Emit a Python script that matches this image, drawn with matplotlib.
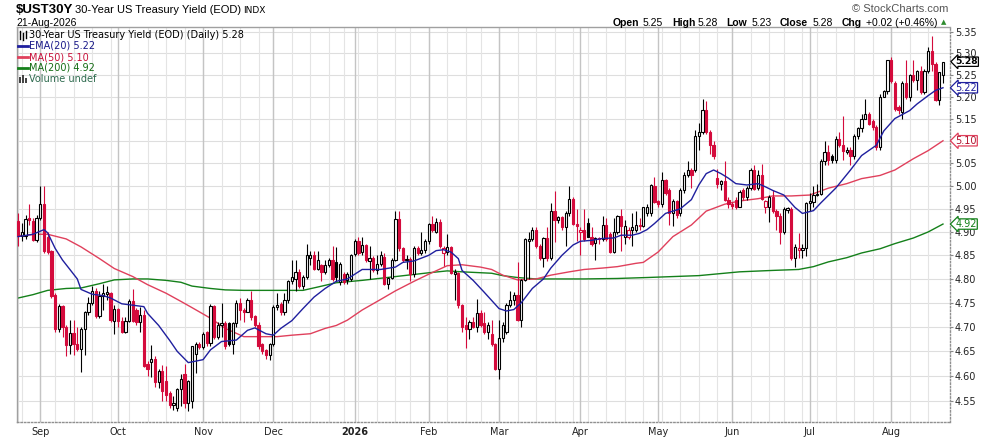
import numpy as np
import pandas as pd
import matplotlib
matplotlib.use("Agg")
import matplotlib.pyplot as plt
from matplotlib.lines import Line2D
from matplotlib.patches import Rectangle
from matplotlib.ticker import FixedLocator, NullLocator, FuncFormatter

# trading calendar (bond market days shown on the chart)
first_day, last_day = "2025-08-22", "2026-08-21"
holidays = ["2025-09-01", "2025-11-27", "2025-12-25", "2026-01-01", "2026-01-19",
            "2026-02-16", "2026-04-03", "2026-05-25", "2026-06-19", "2026-07-03"]

# daily candles (10 per row)
opens = [
    4.924, 4.892, 4.892, 4.930, 4.924, 4.882, 4.930, 4.960, 4.890, 4.860,
    4.767, 4.695, 4.743, 4.700, 4.662, 4.687, 4.665, 4.655, 4.695, 4.730,
    4.750, 4.775, 4.722, 4.764, 4.768, 4.770, 4.712, 4.738, 4.712, 4.690,
    4.713, 4.753, 4.735, 4.710, 4.724, 4.625, 4.628, 4.635, 4.587, 4.610,
    4.590, 4.565, 4.542, 4.535, 4.573, 4.603, 4.546, 4.550, 4.645, 4.665,
    4.658, 4.690, 4.668, 4.743, 4.680, 4.705, 4.708, 4.708, 4.665, 4.708,
    4.750, 4.735, 4.730, 4.755, 4.722, 4.705, 4.665, 4.652, 4.643, 4.665,
    4.742, 4.748, 4.730, 4.755, 4.795, 4.800, 4.815, 4.785, 4.805, 4.845,
    4.850, 4.820, 4.830, 4.815, 4.830, 4.840, 4.835, 4.793, 4.810, 4.797,
    4.800, 4.853, 4.880, 4.857, 4.873, 4.838, 4.845, 4.818, 4.832, 4.847,
    4.790, 4.803, 4.840, 4.928, 4.865, 4.840, 4.843, 4.810, 4.866, 4.855,
    4.862, 4.880, 4.918, 4.900, 4.922, 4.855, 4.858, 4.867, 4.810, 4.812,
    4.745, 4.705, 4.695, 4.710, 4.700, 4.728, 4.708, 4.690, 4.685, 4.665,
    4.615, 4.678, 4.690, 4.745, 4.755, 4.767, 4.715, 4.798, 4.880, 4.885,
    4.905, 4.870, 4.845, 4.887, 4.845, 4.945, 4.925, 4.932, 4.910, 4.940,
    4.972, 4.918, 4.900, 4.905, 4.920, 4.890, 4.877, 4.888, 4.885, 4.915,
    4.895, 4.858, 4.900, 4.935, 4.890, 4.890, 4.905, 4.905, 4.915, 4.912,
    4.940, 4.940, 5.000, 4.968, 4.960, 5.012, 4.990, 4.940, 4.968, 4.940,
    4.990, 5.025, 5.035, 5.035, 5.110, 5.120, 5.170, 5.120, 5.090, 5.017,
    5.005, 5.010, 4.970, 4.960, 4.970, 4.955, 4.990, 4.975, 4.995, 5.035,
    4.995, 5.025, 4.955, 4.955, 4.975, 4.945, 4.935, 4.900, 4.948, 4.950,
    4.845, 4.862, 4.862, 4.865, 4.963, 4.965, 4.980, 4.983, 5.055, 5.075,
    5.065, 5.058, 5.105, 5.090, 5.075, 5.080, 5.066, 5.110, 5.128, 5.150,
    5.160, 5.145, 5.130, 5.085, 5.200, 5.213, 5.283, 5.230, 5.175, 5.165,
    5.230, 5.200, 5.250, 5.238, 5.258, 5.210, 5.258, 5.305, 5.275, 5.193,
    5.250,
]
highs = [
    4.940, 4.920, 4.937, 4.960, 4.930, 4.937, 5.000, 5.000, 4.900, 4.862,
    4.770, 4.747, 4.745, 4.705, 4.715, 4.715, 4.700, 4.700, 4.733, 4.762,
    4.785, 4.780, 4.775, 4.790, 4.785, 4.772, 4.745, 4.740, 4.720, 4.720,
    4.757, 4.778, 4.740, 4.742, 4.735, 4.630, 4.663, 4.640, 4.615, 4.622,
    4.620, 4.570, 4.560, 4.575, 4.603, 4.625, 4.592, 4.660, 4.670, 4.670,
    4.690, 4.692, 4.747, 4.745, 4.710, 4.750, 4.712, 4.710, 4.710, 4.755,
    4.760, 4.740, 4.760, 4.775, 4.725, 4.710, 4.668, 4.655, 4.668, 4.745,
    4.770, 4.752, 4.770, 4.798, 4.840, 4.840, 4.820, 4.808, 4.875, 4.860,
    4.860, 4.860, 4.832, 4.840, 4.845, 4.870, 4.868, 4.835, 4.815, 4.815,
    4.853, 4.885, 4.890, 4.890, 4.875, 4.870, 4.848, 4.850, 4.860, 4.855,
    4.805, 4.845, 4.945, 4.945, 4.868, 4.850, 4.846, 4.870, 4.870, 4.900,
    4.885, 4.920, 4.935, 4.930, 4.928, 4.870, 4.895, 4.870, 4.820, 4.815,
    4.748, 4.720, 4.715, 4.720, 4.757, 4.735, 4.730, 4.710, 4.715, 4.668,
    4.715, 4.710, 4.750, 4.775, 4.772, 4.835, 4.800, 4.887, 4.900, 4.910,
    4.910, 4.875, 4.890, 4.910, 4.962, 4.988, 4.935, 4.935, 4.945, 5.000,
    4.975, 4.950, 4.910, 4.950, 4.930, 4.910, 4.890, 4.890, 4.935, 4.930,
    4.900, 4.930, 4.937, 4.950, 4.925, 4.910, 4.940, 4.945, 4.930, 4.955,
    4.960, 5.005, 5.020, 4.970, 5.030, 5.015, 4.995, 4.972, 4.970, 4.995,
    5.030, 5.055, 5.040, 5.125, 5.140, 5.195, 5.190, 5.125, 5.100, 5.038,
    5.012, 5.055, 4.975, 4.965, 4.975, 4.990, 4.995, 5.000, 5.040, 5.045,
    5.035, 5.048, 4.970, 4.980, 4.990, 4.950, 4.940, 4.955, 4.955, 4.955,
    4.875, 4.897, 4.875, 4.965, 4.985, 5.000, 5.005, 5.060, 5.100, 5.090,
    5.070, 5.110, 5.120, 5.155, 5.085, 5.085, 5.115, 5.130, 5.160, 5.195,
    5.165, 5.150, 5.135, 5.205, 5.215, 5.285, 5.290, 5.235, 5.180, 5.235,
    5.285, 5.252, 5.285, 5.260, 5.270, 5.262, 5.315, 5.340, 5.280, 5.250,
    5.280,
]
lows = [
    4.870, 4.880, 4.885, 4.915, 4.880, 4.878, 4.925, 4.855, 4.853, 4.760,
    4.690, 4.690, 4.680, 4.640, 4.645, 4.643, 4.650, 4.607, 4.643, 4.725,
    4.745, 4.718, 4.718, 4.735, 4.755, 4.710, 4.685, 4.700, 4.688, 4.688,
    4.710, 4.710, 4.705, 4.690, 4.618, 4.600, 4.598, 4.578, 4.575, 4.550,
    4.550, 4.535, 4.532, 4.530, 4.540, 4.535, 4.530, 4.535, 4.605, 4.655,
    4.655, 4.660, 4.660, 4.675, 4.675, 4.680, 4.655, 4.660, 4.645, 4.700,
    4.715, 4.710, 4.730, 4.715, 4.700, 4.655, 4.645, 4.635, 4.632, 4.660,
    4.735, 4.725, 4.725, 4.750, 4.790, 4.775, 4.780, 4.778, 4.800, 4.830,
    4.818, 4.818, 4.795, 4.810, 4.825, 4.795, 4.795, 4.787, 4.790, 4.790,
    4.795, 4.848, 4.850, 4.850, 4.835, 4.800, 4.815, 4.810, 4.828, 4.788,
    4.778, 4.800, 4.838, 4.860, 4.835, 4.820, 4.795, 4.805, 4.850, 4.850,
    4.855, 4.875, 4.900, 4.898, 4.865, 4.828, 4.850, 4.810, 4.755, 4.740,
    4.690, 4.657, 4.675, 4.698, 4.690, 4.700, 4.685, 4.675, 4.660, 4.612,
    4.593, 4.670, 4.685, 4.742, 4.745, 4.713, 4.700, 4.796, 4.800, 4.880,
    4.865, 4.840, 4.825, 4.838, 4.840, 4.878, 4.920, 4.905, 4.870, 4.935,
    4.915, 4.880, 4.850, 4.880, 4.890, 4.870, 4.840, 4.875, 4.880, 4.880,
    4.855, 4.855, 4.895, 4.860, 4.875, 4.885, 4.870, 4.900, 4.905, 4.910,
    4.935, 4.935, 4.962, 4.955, 4.955, 4.980, 4.915, 4.912, 4.930, 4.935,
    4.985, 5.020, 4.995, 5.030, 5.080, 5.115, 5.115, 5.070, 5.060, 4.995,
    4.990, 4.967, 4.952, 4.950, 4.950, 4.953, 4.970, 4.970, 4.990, 4.990,
    4.990, 4.970, 4.940, 4.922, 4.940, 4.905, 4.875, 4.895, 4.940, 4.840,
    4.825, 4.845, 4.845, 4.848, 4.945, 4.955, 4.977, 4.980, 5.045, 5.045,
    5.050, 5.050, 5.085, 5.057, 5.070, 5.045, 5.060, 5.105, 5.120, 5.148,
    5.135, 5.125, 5.080, 5.080, 5.198, 5.205, 5.230, 5.168, 5.160, 5.150,
    5.195, 5.190, 5.233, 5.215, 5.205, 5.205, 5.255, 5.258, 5.190, 5.180,
    5.230,
]
closes = [
    4.892, 4.900, 4.927, 4.925, 4.882, 4.930, 4.960, 4.860, 4.857, 4.765,
    4.695, 4.743, 4.700, 4.662, 4.687, 4.665, 4.655, 4.695, 4.730, 4.750,
    4.775, 4.722, 4.764, 4.770, 4.772, 4.715, 4.738, 4.712, 4.690, 4.713,
    4.753, 4.713, 4.710, 4.724, 4.620, 4.615, 4.635, 4.587, 4.610, 4.570,
    4.562, 4.542, 4.545, 4.573, 4.593, 4.546, 4.590, 4.660, 4.665, 4.658,
    4.685, 4.668, 4.743, 4.680, 4.705, 4.708, 4.660, 4.665, 4.708, 4.750,
    4.735, 4.730, 4.755, 4.720, 4.705, 4.660, 4.650, 4.643, 4.665, 4.742,
    4.745, 4.730, 4.755, 4.795, 4.805, 4.815, 4.785, 4.805, 4.850, 4.850,
    4.820, 4.840, 4.815, 4.830, 4.840, 4.800, 4.805, 4.832, 4.793, 4.810,
    4.850, 4.880, 4.855, 4.873, 4.840, 4.845, 4.818, 4.832, 4.850, 4.790,
    4.803, 4.840, 4.928, 4.865, 4.840, 4.843, 4.810, 4.866, 4.855, 4.862,
    4.880, 4.918, 4.905, 4.922, 4.870, 4.866, 4.867, 4.812, 4.815, 4.745,
    4.700, 4.695, 4.710, 4.700, 4.728, 4.705, 4.690, 4.705, 4.665, 4.615,
    4.678, 4.705, 4.745, 4.755, 4.767, 4.715, 4.798, 4.885, 4.885, 4.905,
    4.870, 4.845, 4.887, 4.845, 4.945, 4.925, 4.932, 4.910, 4.940, 4.972,
    4.918, 4.913, 4.905, 4.885, 4.890, 4.875, 4.888, 4.885, 4.915, 4.884,
    4.858, 4.900, 4.935, 4.912, 4.912, 4.905, 4.910, 4.915, 4.912, 4.953,
    4.955, 5.002, 4.965, 4.960, 5.012, 4.985, 4.940, 4.968, 4.937, 4.990,
    5.025, 5.035, 5.025, 5.110, 5.120, 5.170, 5.120, 5.090, 5.065, 5.005,
    5.010, 4.970, 4.960, 4.957, 4.955, 4.987, 4.975, 4.995, 5.035, 4.993,
    5.025, 4.972, 4.968, 4.975, 4.945, 4.935, 4.900, 4.950, 4.952, 4.845,
    4.868, 4.865, 4.866, 4.963, 4.967, 4.980, 4.982, 5.055, 5.075, 5.058,
    5.058, 5.105, 5.090, 5.078, 5.080, 5.066, 5.110, 5.128, 5.150, 5.160,
    5.138, 5.130, 5.085, 5.200, 5.213, 5.283, 5.235, 5.172, 5.170, 5.230,
    5.200, 5.250, 5.238, 5.258, 5.210, 5.258, 5.305, 5.275, 5.193, 5.256,
    5.280,
]

# overlays, read at sample days (day number from the first candle)
ema20_day = [0, 4, 7, 8, 10, 12, 14, 16, 17, 20, 23, 25, 28, 31, 34, 35, 38, 41, 43, 46,
             50, 52, 55, 59, 62, 64, 67, 69, 71, 74, 77, 80, 83, 86, 89, 93, 98, 102, 104, 107,
             111, 113, 115, 117, 119, 120, 123, 126, 128, 130, 132, 134, 136, 139, 142, 144, 147, 150, 152, 155,
             158, 161, 163, 166, 168, 170, 172, 175, 179, 182, 184, 186, 188, 190, 192, 194, 197, 200, 202, 204,
             207, 210, 212, 215, 217, 221, 225, 228, 232, 234, 237, 241, 243, 246, 248, 250]
ema20_val = [4.890, 4.895, 4.905, 4.898, 4.865, 4.840, 4.820, 4.800, 4.778, 4.768,
             4.765, 4.760, 4.748, 4.745, 4.742, 4.728, 4.703, 4.672, 4.650, 4.627,
             4.633, 4.653, 4.670, 4.673, 4.693, 4.698, 4.686, 4.683, 4.697, 4.713,
             4.738, 4.762, 4.780, 4.795, 4.800, 4.820, 4.820, 4.825, 4.835, 4.838,
             4.850, 4.860, 4.862, 4.857, 4.843, 4.818, 4.797, 4.772, 4.755, 4.738,
             4.733, 4.736, 4.750, 4.780, 4.800, 4.823, 4.850, 4.872, 4.880, 4.882,
             4.886, 4.887, 4.893, 4.893, 4.897, 4.905, 4.918, 4.940, 4.950, 4.970,
             5.002, 5.027, 5.035, 5.027, 5.017, 5.005, 5.002, 5.005, 4.998, 4.990,
             4.980, 4.953, 4.940, 4.946, 4.963, 4.995, 5.035, 5.067, 5.090, 5.122,
             5.150, 5.168, 5.183, 5.202, 5.214, 5.220]

ma50_day = [0, 5, 8, 13, 17, 22, 26, 31, 35, 40, 44, 47, 52, 56, 61, 65, 70, 74, 79, 83,
            86, 89, 93, 98, 102, 107, 111, 116, 120, 125, 128, 131, 135, 140, 144, 149, 153, 158, 162, 167,
            169, 173, 177, 182, 186, 191, 195, 200, 204, 209, 214, 219, 224, 228, 233, 237, 242, 246, 250]
ma50_val = [4.892, 4.895, 4.895, 4.885, 4.868, 4.843, 4.822, 4.805, 4.788, 4.770,
            4.753, 4.740, 4.718, 4.697, 4.680, 4.680, 4.680, 4.683, 4.686, 4.697,
            4.703, 4.714, 4.735, 4.757, 4.775, 4.795, 4.810, 4.828, 4.830, 4.825,
            4.820, 4.808, 4.798, 4.800, 4.808, 4.815, 4.820, 4.823, 4.826, 4.833,
            4.835, 4.857, 4.890, 4.915, 4.945, 4.960, 4.967, 4.972, 4.978, 4.978,
            4.980, 4.995, 5.005, 5.016, 5.023, 5.035, 5.060, 5.078, 5.100]

ma200_day = [0, 4, 8, 13, 17, 22, 26, 31, 35, 40, 44, 47, 52, 56, 61, 70, 77, 81, 86, 93,
             102, 111, 116, 120, 128, 131, 135, 140, 153, 162, 170, 184, 195, 204, 211, 215, 219, 224, 228, 233,
             237, 242, 246, 250]
ma200_val = [4.760, 4.767, 4.776, 4.780, 4.781, 4.790, 4.798, 4.800, 4.800, 4.797,
             4.793, 4.785, 4.780, 4.777, 4.776, 4.776, 4.776, 4.783, 4.792, 4.797,
             4.805, 4.813, 4.817, 4.815, 4.812, 4.807, 4.803, 4.800, 4.800, 4.801,
             4.803, 4.807, 4.815, 4.818, 4.820, 4.826, 4.836, 4.845, 4.855, 4.864,
             4.875, 4.887, 4.900, 4.917]

yticks = [4.55, 4.60, 4.65, 4.70, 4.75, 4.80, 4.85, 4.90, 4.95,
          5.00, 5.05, 5.10, 5.15, 5.20, 5.25, 5.30, 5.35]

RED = "#d40b3c"
EMA_C = "#1f1f9e"
MA50_C = "#e0405c"
MA200_C = "#14801a"
W, H = 990, 438

plt.rcParams["font.family"] = ["DejaVu Sans"]

o = np.array(opens)
h = np.array(highs)
l = np.array(lows)
c = np.array(closes)
x = np.arange(len(c))

dates = pd.bdate_range(first_day, last_day)
dates = dates[~dates.isin(pd.to_datetime(holidays))]
day_ix = pd.Series(np.arange(len(dates)), index=dates)
month_first = day_ix.groupby([dates.year, dates.month]).first().iloc[1:]
week_first = day_ix.groupby(dates.to_period("W")).first()


def fx(px):
    return px / W


def fy(py):
    return 1 - py / H


fig = plt.figure(figsize=(W / 100, H / 100), dpi=100)
ax = fig.add_axes([fx(17), fy(422), fx(950) - fx(17), fy(27) - fy(422)])

# candles
prev = np.concatenate([[o[0]], c[:-1]])
colors = np.where(c < prev, RED, "black")
hollow = c >= o
ax.vlines(x, np.minimum(l, np.minimum(o, c)), np.maximum(h, np.maximum(o, c)),
          colors=colors, lw=0.8, zorder=3)
body_lo = np.minimum(o, c)
body_h = np.maximum(np.abs(c - o), 0.0015)
faces = np.where(hollow, "white", colors)
ax.bar(x, body_h, bottom=body_lo, width=0.6, color=faces, edgecolor=colors,
       linewidth=0.8, zorder=4)

# moving averages
ax.plot(ma200_day, ma200_val, color=MA200_C, lw=1.0, zorder=2)
ax.plot(ma50_day, ma50_val, color=MA50_C, lw=1.0, zorder=2)
ax.plot(ema20_day, ema20_val, color=EMA_C, lw=1.0, zorder=5)

# value tags on the right
tags = [(c[-1], f"{c[-1]:.2f}", "black", "black", True),
        (ema20_val[-1], f"{ema20_val[-1]:.2f}", EMA_C, EMA_C, False),
        (ma50_val[-1], f"{ma50_val[-1]:.2f}", MA50_C, "#b0102c", False),
        (ma200_val[-1], f"{ma200_val[-1]:.2f}", MA200_C, MA200_C, False)]
tag_vals = [t[0] for t in tags]


def tick_fmt(v, pos):
    # a tick label sitting right under a tag is hidden by it
    if min(abs(v - t) for t in tag_vals) < 0.008:
        return ""
    return f"{v:.2f}"


ax.set_yscale("log")
ax.set_ylim(4.508, 5.361)
ax.set_xlim(-0.3, 251.9)
ax.yaxis.set_major_locator(FixedLocator(yticks))
ax.yaxis.set_minor_locator(NullLocator())
ax.yaxis.set_major_formatter(FuncFormatter(tick_fmt))
ax.yaxis.tick_right()
ax.tick_params(axis="y", labelsize=7, length=2, pad=1.5, color="#888888", labelcolor="#222222")

# grid
for yv in yticks:
    ax.axhline(yv, color="#dedede", lw=0.8, zorder=0)
for wi in week_first.values:
    ax.axvline(wi, color="#e4e4e4", lw=0.8, zorder=0)
for mi in month_first.values:
    ax.axvline(mi, color="#c4c4c4", lw=1.0, zorder=0)

ax.set_xticks(month_first.values)
labels = []
for (yr, mo) in month_first.index:
    labels.append(str(yr) if mo == 1 else pd.Timestamp(yr, mo, 1).strftime("%b"))
ax.set_xticklabels(labels)
ax.tick_params(axis="x", labelsize=7, length=0, pad=3.5, labelcolor="#222222")
for lab in ax.get_xticklabels():
    if lab.get_text().isdigit():
        lab.set_fontweight("bold")

for side in ["left", "top"]:
    ax.spines[side].set_color("#a0a0a0")
    ax.spines[side].set_linewidth(1.0)
for side in ["right", "bottom"]:
    ax.spines[side].set_color("#909090")
    ax.spines[side].set_linewidth(1.0)
    ax.spines[side].set_linestyle((0, (1, 1.5)))

for yv, txt, ec, tc, bold in tags:
    ax.text(1.006, yv, txt, transform=ax.get_yaxis_transform(), ha="left", va="center",
            fontsize=6.6 if bold else 7, color=tc, fontweight="bold" if bold else "normal",
            bbox=dict(boxstyle="larrow,pad=0.02", fc="white", ec=ec, lw=0.9),
            clip_on=False, zorder=10)

# title block
fig.text(fx(16), fy(13), "$UST30Y", fontsize=9.5, fontweight="bold",
         family="Liberation Sans", va="baseline")
fig.text(fx(75), fy(13), "30-Year US Treasury Yield (EOD)", fontsize=8,
         family="Liberation Sans", va="baseline")
fig.text(fx(243), fy(13), "INDX", fontsize=6.5, va="baseline")
fig.text(fx(16), fy(26), "21-Aug-2026", fontsize=7.5, family="Liberation Sans", va="baseline")
fig.text(fx(948), fy(12.5), "\u00a9 StockCharts.com", fontsize=8, color="#555555",
         family="Liberation Sans", ha="right", va="baseline")

chg = c[-1] - c[-2]
pct = chg / c[-2] * 100
header = [("Open", True, 613), (f"{o[-1]:.2f}", False, 643),
          ("High", True, 672), (f"{h[-1]:.2f}", False, 698),
          ("Low", True, 726), (f"{l[-1]:.2f}", False, 752),
          ("Close", True, 780), (f"{c[-1]:.2f}", False, 813),
          ("Chg", True, 842), (f"{chg:+.2f} ({pct:+.2f}%)", False, 866)]
for txt, bold, px in header:
    fig.text(fx(px), fy(26), txt, fontsize=7.5, family="Liberation Sans",
             fontweight="bold" if bold else "normal", va="baseline")
fig.text(fx(944), fy(22.5), "\u25b2", fontsize=5, color="#2e8b2e", ha="center", va="center")

# legend block
leg = [(f"30-Year US Treasury Yield (EOD) (Daily) {c[-1]:.2f}", "black", None),
       (f"EMA(20) {ema20_val[-1]:.2f}", "#1a1a8a", EMA_C),
       (f"MA(50) {ma50_val[-1]:.2f}", "#c8103a", MA50_C),
       (f"MA(200) {ma200_val[-1]:.2f}", "#146c14", MA200_C),
       ("Volume undef", "#2f6b4f", None)]
for k, (txt, tc, lc) in enumerate(leg):
    yc = 35 + 11 * k
    fig.text(fx(29), fy(yc), txt, fontsize=7, color=tc, va="center")
    if lc is not None:
        fig.add_artist(Line2D([fx(18), fx(28)], [fy(yc), fy(yc)], color=lc, lw=2))
# small icons for price and volume rows
for px, top, bot in [(20, 31, 39), (23, 33, 40), (26, 31, 38)]:
    fig.add_artist(Line2D([fx(px), fx(px)], [fy(top), fy(bot)], color="black", lw=1))
for px, top in [(19, 77), (22, 75), (25, 78)]:
    fig.add_artist(Rectangle((fx(px), fy(83)), fx(2), fy(top) - fy(83), color="#444444", lw=0))

fig.savefig("out.png", dpi=100)
